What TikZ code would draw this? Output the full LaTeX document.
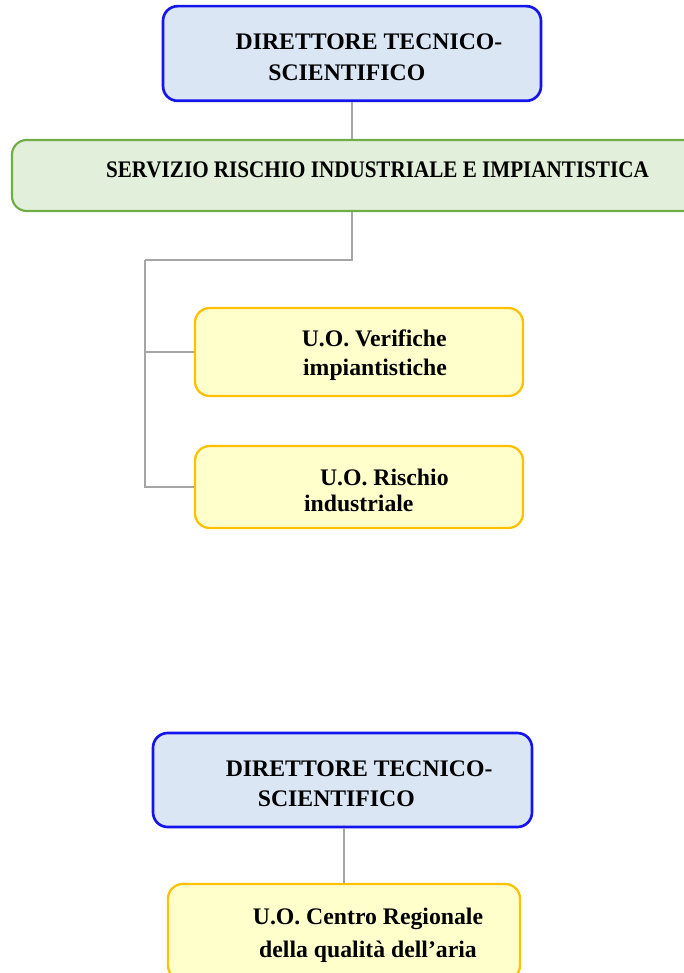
\documentclass[tikz,border=0pt]{standalone}
\usepackage{fontspec}
\setmainfont{Liberation Serif}
\usepackage{graphicx}
\definecolor{dirblue}{RGB}{20,20,235}
\definecolor{dirfill}{RGB}{218,230,244}
\definecolor{servgreen}{RGB}{112,173,71}
\definecolor{servfill}{RGB}{226,239,218}
\definecolor{uoyellow}{RGB}{255,192,0}
\definecolor{uofill}{RGB}{255,255,204}
\definecolor{linkgray}{RGB}{165,165,165}
\newcommand{\topgap}{\rule{0pt}{17pt}}
\tikzset{
	box/.style={draw, rounded corners=11pt, align=left, inner sep=0pt,
		font=\fontsize{17.8}{22}\selectfont\bfseries},
	dirbox/.style={box, draw=dirblue, fill=dirfill, line width=2pt,
		minimum width=283.5pt, minimum height=71pt},
	servbox/.style={box, draw=servgreen, fill=servfill, line width=1.6pt,
		minimum width=548.25pt, minimum height=53.25pt},
	uobox/.style={box, draw=uoyellow, fill=uofill, line width=1.7pt},
	link/.style={draw=linkgray, line width=1.5pt}
}

\begin{document}
\begin{tikzpicture}[x=0.75pt, y=-0.75pt]
		%%%%% START %%%%%
		\clip (0, 0) rectangle (684, 973);
		
		% first chart
		\node[dirbox] (dir1) at (352, 53.5) {\topgap\hspace*{25.5pt}DIRETTORE TECNICO-\\[1pt]\hspace*{50pt}SCIENTIFICO};
		\node[servbox] (serv) at (377.5, 175.5) {\raisebox{4.5pt}[\height][\depth]{\scalebox{0.89}[1]{SERVIZIO RISCHIO INDUSTRIALE E IMPIANTISTICA}}};
		\node[uobox, minimum width=246pt, minimum height=66pt] (verif) at (359, 352) {\topgap\hspace*{23pt}U.O. Verifiche\\\hspace*{24pt}impiantistiche};
		\node[uobox, minimum width=246pt, minimum height=61.5pt] (risch) at (359, 487) {\topgap\hspace*{38pt}U.O. Rischio\\[-2.5pt]\hspace*{26pt}industriale};
		
		\coordinate (bus) at (145, 260);
		\draw[link] (dir1.south) -- (dir1.south |- serv.north);
		\draw[link] (dir1.south |- serv.south) |- (bus);
		\draw[link] (bus) |- (verif.west);
		\draw[link] (bus) |- (risch.west);
		
		% second chart
		\node[dirbox, minimum width=284.25pt, minimum height=70.5pt] (dir2) at (342.5, 780) {\topgap\hspace*{25pt}DIRETTORE TECNICO-\\[0.5pt]\hspace*{49pt}SCIENTIFICO};
		\node[uobox, align=center, minimum width=264pt, minimum height=72pt] (crqa) at (344, 932) {\topgap\hspace*{36pt}U.O. Centro Regionale\\[2.7pt]\hspace*{36pt}della qualità dell’aria};
		
		\draw[link] (crqa.north |- dir2.south) -- (crqa.north);
		%%%%% END %%%%%
\end{tikzpicture}
\end{document}
